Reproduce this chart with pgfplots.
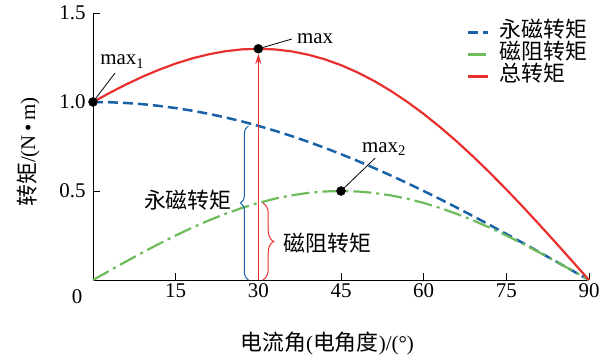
\documentclass[border=0pt]{standalone}
\usepackage{pgfplots}
\pgfplotsset{compat=1.18}
\usepackage{pgfplotstable}
\usepackage{fontspec}
\setmainfont{Liberation Serif}
\newfontfamily\cjk{Noto Sans CJK SC}
\usetikzlibrary{decorations.pathreplacing,arrows.meta}
\definecolor{pmblue}{HTML}{1A62A8}
\definecolor{relgreen}{HTML}{6DBB5A}
\definecolor{totred}{HTML}{E8312F}
\newcommand\fs{\fontsize{21}{24}\selectfont}
\newcommand\cfs{\cjk\fontsize{22}{24}\selectfont}

\pgfplotstableread{
theta pm rel tot
0 1.0000 0.0000 1.0000
3 0.9986 0.0523 1.0509
6 0.9945 0.1040 1.0985
9 0.9877 0.1545 1.1422
12 0.9781 0.2034 1.1815
15 0.9659 0.2500 1.2159
18 0.9511 0.2939 1.2450
21 0.9336 0.3346 1.2681
24 0.9135 0.3716 1.2851
27 0.8910 0.4045 1.2955
30 0.8660 0.4330 1.2990
33 0.8387 0.4568 1.2954
36 0.8090 0.4755 1.2845
39 0.7771 0.4891 1.2662
42 0.7431 0.4973 1.2404
45 0.7071 0.5000 1.2071
48 0.6691 0.4973 1.1664
51 0.6293 0.4891 1.1184
54 0.5878 0.4755 1.0633
57 0.5446 0.4568 1.0014
60 0.5000 0.4330 0.9330
63 0.4540 0.4045 0.8585
66 0.4067 0.3716 0.7783
69 0.3584 0.3346 0.6929
72 0.3090 0.2939 0.6029
75 0.2588 0.2500 0.5088
78 0.2079 0.2034 0.4113
81 0.1564 0.1545 0.3109
84 0.1045 0.1040 0.2085
87 0.0523 0.0523 0.1046
90 0.0000 0.0000 0.0000
}\data

\begin{document}
\begin{tikzpicture}
\path[use as bounding box] (-93bp,-76bp) rectangle (509bp,280bp);
\begin{axis}[
  at={(0,0)}, anchor=south west,
  scale only axis, width=496bp, height=267bp,
  xmin=0, xmax=90, ymin=0, ymax=1.5,
  axis x line*=bottom, axis y line*=left,
  axis line style={-, line width=0.9bp},
  tick align=inside, major tick length=7bp,
  tick style={black, line width=0.9bp},
  xtick={15,30,45,60,75,90},
  ytick={0.5,1,1.5},
  /pgf/number format/assume math mode=true,
  ticklabel style={font=\fs},
  yticklabel style={xshift=-4bp, /pgf/number format/.cd, fixed, fixed zerofill, precision=1},
  clip=false,
  xlabel={{\cfs 电流角}({\cfs 电角度})/(°)},
  xlabel style={font=\fs, at={(axis description cs:0.472,-0.236)}, anchor=center},
  ylabel={{\cfs 转矩}/(N\,•\,m)},
  ylabel style={font=\fs, at={(axis description cs:-0.131,0.479)}, anchor=center, rotate=0},
  legend style={draw=none, fill=none, at={(axis cs:90.4,1.465)}, anchor=north east,
    font=\cfs, row sep=0pt, nodes={inner sep=1bp, text height=15bp, text depth=5bp}},
  legend cell align=left,
  legend image code/.code={\draw[#1] (0bp,0bp) -- (20bp,0bp); \path (29bp,0bp);},
]
\addplot[pmblue, line width=2.5bp, dash pattern=on 10bp off 5bp] table[x=theta, y=pm] {\data};
\addlegendentry{永磁转矩}
\addplot[relgreen, line width=2.2bp, dash pattern=on 18bp off 5bp on 3bp off 5bp] table[x=theta, y=rel] {\data};
\addlegendentry{磁阻转矩}
\addplot[totred, line width=2.2bp] table[x=theta, y=tot] {\data};
\addlegendentry{总转矩}

\draw[totred, line width=1.2bp, -{Stealth[length=10bp,width=6bp]}] (axis cs:30,0) -- (axis cs:30,1.27);
\draw[pmblue, line width=1bp, decorate, decoration={brace, amplitude=8bp}] (axis cs:28.2,0) -- (axis cs:28.2,0.866);
\draw[totred, line width=1bp, decorate, decoration={brace, amplitude=11bp}] (axis cs:30.8,0.433) -- (axis cs:30.8,0);
\node[anchor=east, font=\cfs, inner sep=0pt] at (axis cs:25.2,0.449) {永磁转矩};
\node[anchor=west, font=\cfs, inner sep=0pt] at (axis cs:34.5,0.208) {磁阻转矩};

\draw[black, line width=0.8bp] (axis cs:0,1) -- (axis cs:4.0,1.163);
\draw[black, line width=0.8bp] (axis cs:30,1.299) -- (axis cs:36.1,1.354);
\draw[black, line width=0.8bp] (axis cs:45,0.5) -- (axis cs:51.2,0.685);
\node[anchor=base west, font=\fs, inner sep=0pt] at (axis cs:1.3,1.208) {max\textsubscript{1}};
\node[anchor=base west, font=\fs, inner sep=0pt] at (axis cs:37.0,1.331) {max};
\node[anchor=base west, font=\fs, inner sep=0pt] at (axis cs:48.8,0.719) {max\textsubscript{2}};
\node[font=\fs, inner sep=0pt] at (axis cs:0,0) [xshift=-16bp, yshift=-17bp] {0};

\addplot[only marks, mark=*, mark size=4.5bp, black] coordinates {(0,1) (30,1.299) (45,0.5)};
\end{axis}
\end{tikzpicture}
\end{document}
